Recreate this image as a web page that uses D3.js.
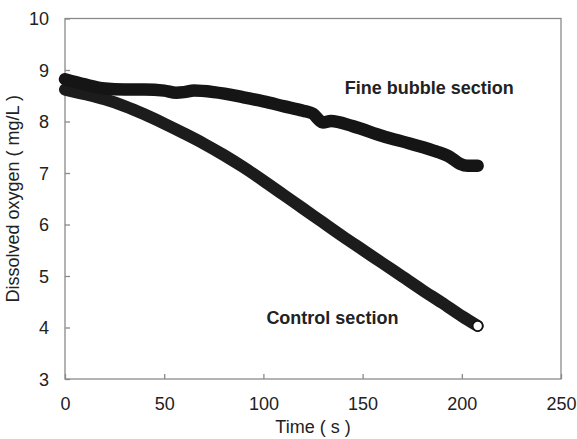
<!DOCTYPE html>
<html>
<head>
<style>
  body { margin: 0; background: #fff; }
  svg text { font-family: "Liberation Sans", Arial, sans-serif; fill: #222; }
</style>
</head>
<body>
<div id="vis"></div>
<script src="https://d3js.org/d3.v7.min.js"></script>
<script>
// values
var xTicks = [0, 50, 100, 150, 200, 250];
var yTicks = [3, 4, 5, 6, 7, 8, 9, 10];

var fineTime = [0, 10, 20, 30, 40, 50, 56, 60, 65, 75, 90, 100, 110, 120, 125, 128, 130, 134, 145, 160, 175, 187, 194, 199, 203, 208];
var fineDO   = [8.82, 8.72, 8.64, 8.62, 8.62, 8.60, 8.56, 8.57, 8.60, 8.57, 8.47, 8.39, 8.30, 8.21, 8.15, 8.03, 7.98, 8.01, 7.91, 7.72, 7.56, 7.42, 7.31, 7.18, 7.14, 7.14];

var ctrlTime = [0, 10, 20, 30, 40, 50, 60, 70, 80, 90, 100, 110, 120, 130, 140, 150, 160, 170, 180, 190, 200, 208];
var ctrlDO   = [8.62, 8.53, 8.43, 8.30, 8.14, 7.96, 7.77, 7.57, 7.35, 7.11, 6.85, 6.58, 6.31, 6.04, 5.77, 5.51, 5.25, 4.99, 4.73, 4.48, 4.22, 4.03];

var margin = {top: 18.5, right: 16, bottom: 60, left: 65},
    width = 577 - margin.left - margin.right,
    height = 439 - margin.top - margin.bottom;

var svg = d3.select("#vis").append("svg")
    .attr("width", 577)
    .attr("height", 439)
  .append("g")
    .attr("transform", "translate(" + margin.left + "," + margin.top + ")");

var x = d3.scaleLinear().domain([0, 250]).range([0, width]);
var y = d3.scaleLinear().domain([3, 10]).range([height, 0]);

// frame
svg.append("rect")
    .attr("width", width)
    .attr("height", height)
    .attr("fill", "none")
    .attr("stroke", "#8a8a8a")
    .attr("stroke-width", 1.3);

var xAxis = svg.append("g")
    .attr("transform", "translate(0," + height + ")")
    .call(d3.axisBottom(x).tickValues(xTicks).tickFormat(d3.format("d")).tickSize(-5).tickPadding(15));
var yAxis = svg.append("g")
    .call(d3.axisLeft(y).tickValues(yTicks).tickFormat(d3.format("d")).tickSize(-5).tickPadding(16));

[xAxis, yAxis].forEach(function(a) {
  a.select(".domain").remove();
  a.selectAll(".tick line").attr("stroke", "#8a8a8a").attr("stroke-width", 1.3);
  a.selectAll(".tick text").style("font-size", "18px").attr("fill", "#222");
});
xAxis.selectAll(".tick text").attr("dy", "0.9em");
yAxis.selectAll(".tick text").attr("dy", "0.36em");

var line = d3.line()
    .x(function(d) { return x(d[0]); })
    .y(function(d) { return y(d[1]); })
    .curve(d3.curveMonotoneX);

var fine = fineTime.map(function(t, i) { return [t, fineDO[i]]; });
var ctrl = ctrlTime.map(function(t, i) { return [t, ctrlDO[i]]; });

svg.append("path")
    .datum(ctrl)
    .attr("d", line)
    .attr("fill", "none")
    .attr("stroke", "#1c1c1c")
    .attr("stroke-width", 12)
    .attr("stroke-linecap", "round")
    .attr("stroke-linejoin", "round");

svg.append("path")
    .datum(fine)
    .attr("d", line)
    .attr("fill", "none")
    .attr("stroke", "#151515")
    .attr("stroke-width", 12.5)
    .attr("stroke-linecap", "round")
    .attr("stroke-linejoin", "round");

// last control marker is open
var last = ctrl[ctrl.length - 1];
svg.append("circle")
    .attr("cx", x(last[0]))
    .attr("cy", y(last[1]))
    .attr("r", 5)
    .attr("fill", "#fff")
    .attr("stroke", "#111")
    .attr("stroke-width", 1.6);

// series labels
svg.append("text")
    .attr("x", x(141))
    .attr("y", y(8.53))
    .style("font-size", "18px")
    .style("font-weight", "bold")
    .text("Fine bubble section");

svg.append("text")
    .attr("x", x(101.5))
    .attr("y", y(4.07))
    .style("font-size", "18px")
    .style("font-weight", "bold")
    .text("Control section");

// axis titles
svg.append("text")
    .attr("x", width / 2)
    .attr("y", height + 54)
    .attr("text-anchor", "middle")
    .style("font-size", "18px")
    .text("Time ( s )");

svg.append("text")
    .attr("transform", "translate(" + (-46) + "," + (height / 2) + ") rotate(-90)")
    .attr("text-anchor", "middle")
    .style("font-size", "18px")
    .text("Dissolved oxygen ( mg/L )");
</script>
</body>
</html>
